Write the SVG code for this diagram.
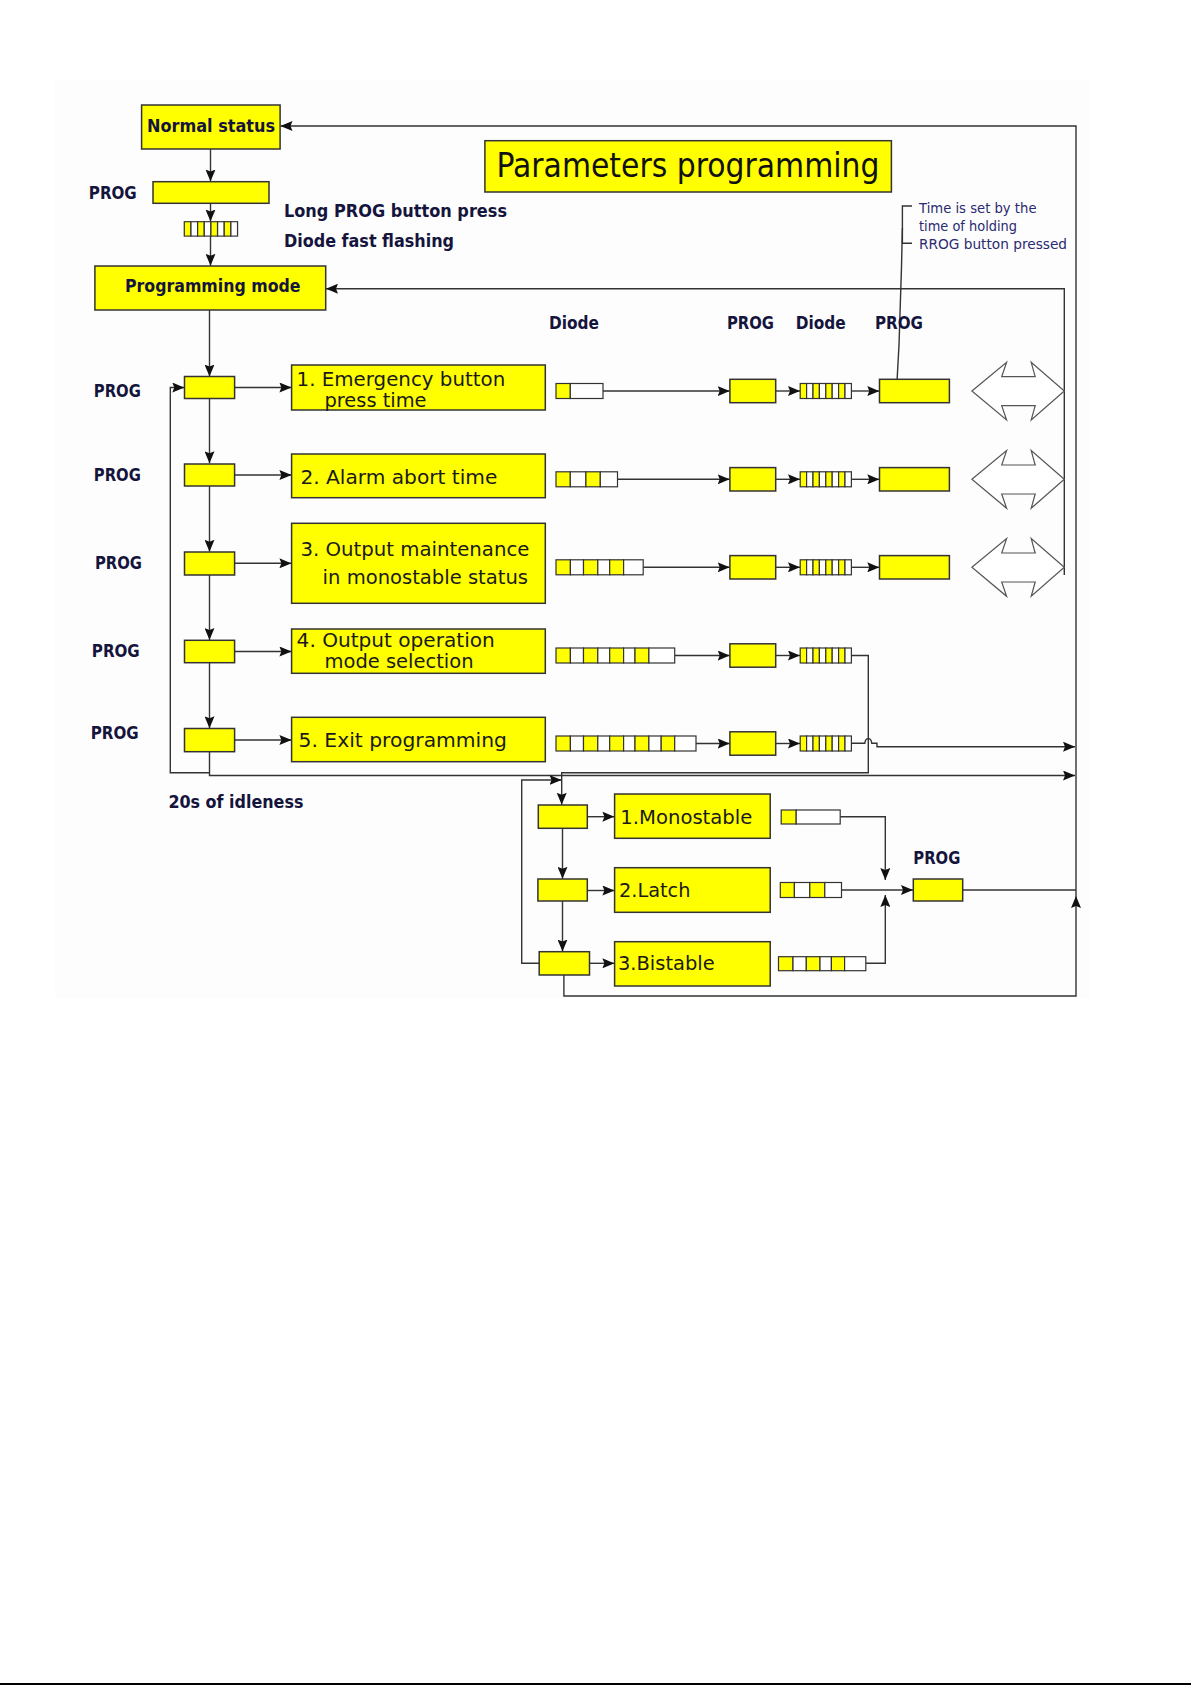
<svg xmlns="http://www.w3.org/2000/svg" xmlns:xlink="http://www.w3.org/1999/xlink" width="1191" height="1685" viewBox="0 0 1191 1685">
<style>
.box{fill:#ffff00;stroke:#333;stroke-width:1.5}
.ln{fill:none;stroke:#333;stroke-width:1.4}
.a{marker-end:url(#arr)}
.lb{font-family:"DejaVu Sans",sans-serif;font-weight:bold;font-size:17px;fill:#14143c}
.bt{font-family:"DejaVu Sans",sans-serif;font-size:20px;fill:#1a1a1a}
.an{font-family:"DejaVu Sans",sans-serif;font-size:14px;fill:#2a2a70}
.dy{fill:#ffff00;stroke:#333;stroke-width:1.2}
.dw{fill:#fff;stroke:#333;stroke-width:1.2}
.dbl{fill:#fff;stroke:#555;stroke-width:1.2}
</style>
<defs>
<marker id="arr" viewBox="0 0 12 10" refX="12" refY="5" markerWidth="12" markerHeight="10" markerUnits="userSpaceOnUse" orient="auto">
<path d="M0,0 L12,5 L0,10 L2,5 z" fill="#111"/>
</marker>
<g id="fast">
<rect class="dy" x="0" y="0" width="6.4" height="15"/>
<rect class="dw" x="6.4" y="0" width="6.4" height="15"/>
<rect class="dy" x="12.8" y="0" width="6.4" height="15"/>
<rect class="dw" x="19.2" y="0" width="6.4" height="15"/>
<rect class="dy" x="25.6" y="0" width="6.4" height="15"/>
<rect class="dw" x="32" y="0" width="6.4" height="15"/>
<rect class="dy" x="38.4" y="0" width="6.4" height="15"/>
<rect class="dw" x="44.8" y="0" width="6.4" height="15"/>
</g>
<path id="dbl" class="dbl" d="M971.9,0 L1006.6,-28.7 L1001.7,-14.3 L1035.2,-14.3 L1031.2,-28.7 L1064.3,0 L1031.2,29 L1035.2,14.7 L1001.7,14.7 L1006.6,29 Z"/>
</defs>
<rect x="0" y="0" width="1191" height="1685" fill="#ffffff"/>
<rect x="55" y="80" width="1035" height="918" fill="#fdfdfd"/>
<line x1="0" y1="1684" x2="1191" y2="1684" stroke="#000" stroke-width="2"/>

<g id="connectors">
<path class="ln a" d="M210.5,149 V181.5"/>
<path class="ln a" d="M210.5,203.3 V221.5"/>
<path class="ln a" d="M210.5,236 V265.8"/>
<path class="ln a" d="M209.5,310 V376.5"/>
<path class="ln a" d="M209.5,398.5 V463.3"/>
<path class="ln a" d="M209.5,486 V551.7"/>
<path class="ln a" d="M209.5,575 V640"/>
<path class="ln a" d="M209.5,662.7 V728.3"/>
<path class="ln a" d="M209.5,751.7 V775.5 H1075"/>
<path class="ln a" d="M209.5,772.7 H170.3 V387.5 H184.3"/>
<path class="ln a" d="M234.6,387.5 H291.4"/>
<path class="ln a" d="M234.6,475 H291.4"/>
<path class="ln a" d="M234.6,563.3 H291.4"/>
<path class="ln a" d="M234.6,651.5 H291.4"/>
<path class="ln a" d="M234.6,740 H291.4"/>
<path class="ln a" d="M603,391 H729.7"/>
<path class="ln a" d="M617.5,479.3 H729.7"/>
<path class="ln a" d="M643.2,567.3 H729.7"/>
<path class="ln a" d="M674.7,655.5 H729.7"/>
<path class="ln a" d="M696,743.5 H729.7"/>
<path class="ln a" d="M775.7,391 H800"/>
<path class="ln a" d="M775.7,479.3 H800"/>
<path class="ln a" d="M775.7,567.3 H800"/>
<path class="ln a" d="M775.7,655.5 H800"/>
<path class="ln a" d="M775.7,743.5 H800"/>
<path class="ln a" d="M851.3,391 H879.3"/>
<path class="ln a" d="M851.3,479.3 H879.3"/>
<path class="ln a" d="M851.3,567.3 H879.3"/>
<path class="ln a" d="M851.3,655.5 H868.3 V772.7 H561.7 V804.8"/>
<path class="ln a" d="M851.3,743.3 H864.8 C865.5,737 871,737 871.8,743.3 H877 V746.7 H1075"/>
<path class="ln" d="M912,206 H902.4 V243.3 H912"/>
<path class="ln" d="M902.4,228 L901.5,267 L899,345 L896.7,387"/>
<path class="ln a" d="M1076,896 V126 H280.5"/>
<path class="ln a" d="M1064.3,575 V288.7 H326"/>
<path class="ln a" d="M563.9,975 V996 H1076 V896"/>
<path class="ln a" d="M562.5,828.3 V878.8"/>
<path class="ln a" d="M562.5,901 V951.5"/>
<path class="ln a" d="M539.2,963.3 H521.7 V780 H561.5"/>
<path class="ln a" d="M587.3,816.7 H614.4"/>
<path class="ln a" d="M587.3,890.5 H614.4"/>
<path class="ln a" d="M589.5,963.3 H614.4"/>
<path class="ln a" d="M840.2,816.7 H885.3 V880"/>
<path class="ln a" d="M841.5,890 H913"/>
<path class="ln a" d="M865.8,963.3 H885.3 V895"/>
<path class="ln" d="M962.7,890 H1076"/>
</g>

<g id="normal-status">
<rect class="box" x="141.6" y="105" width="138.5" height="44"/>
<text class="lb" x="147" y="132" textLength="128" lengthAdjust="spacingAndGlyphs">Normal status</text>
</g>
<g id="prog-long">
<text class="lb" x="88.8" y="199" textLength="48" lengthAdjust="spacingAndGlyphs">PROG</text>
<rect class="box" x="153" y="181.7" width="116" height="21.6"/>
</g>
<g id="diode-fast">
<use xlink:href="#fast" transform="translate(184.3,221.7) scale(1.04,0.96)"/>
<text class="lb" x="284" y="217" textLength="223" lengthAdjust="spacingAndGlyphs">Long PROG button press</text>
<text class="lb" x="284" y="246.5" textLength="170" lengthAdjust="spacingAndGlyphs">Diode fast flashing</text>
</g>
<g id="programming-mode">
<rect class="box" x="94.9" y="266" width="230.8" height="44"/>
<text class="lb" x="125" y="292.3" textLength="175.5" lengthAdjust="spacingAndGlyphs">Programming mode</text>
</g>
<g id="title">
<rect class="box" x="484.9" y="140.7" width="406.5" height="51.3"/>
<text x="496.4" y="176.7" font-family="DejaVu Sans, sans-serif" font-size="34" fill="#111" textLength="383" lengthAdjust="spacingAndGlyphs">Parameters programming</text>
</g>
<g id="note">
<text class="an" x="919" y="212.7" textLength="117.5" lengthAdjust="spacingAndGlyphs">Time is set by the</text>
<text class="an" x="919" y="231" textLength="98" lengthAdjust="spacingAndGlyphs">time of holding</text>
<text class="an" x="919" y="249.3" textLength="148" lengthAdjust="spacingAndGlyphs">RROG button pressed</text>
</g>
<g id="column-labels">
<text class="lb" x="549" y="328.5" textLength="50" lengthAdjust="spacingAndGlyphs">Diode</text>
<text class="lb" x="727" y="329" textLength="47" lengthAdjust="spacingAndGlyphs">PROG</text>
<text class="lb" x="795.7" y="329" textLength="50" lengthAdjust="spacingAndGlyphs">Diode</text>
<text class="lb" x="875" y="329" textLength="48" lengthAdjust="spacingAndGlyphs">PROG</text>
</g>

<g id="row1">
<text class="lb" x="93.8" y="397" textLength="47" lengthAdjust="spacingAndGlyphs">PROG</text>
<rect class="box" x="184.5" y="376.5" width="50.1" height="22"/>
<rect class="box" x="291.6" y="365" width="253.7" height="45"/>
<text class="bt" x="296.6" y="385.5" textLength="208.6" lengthAdjust="spacingAndGlyphs">1. Emergency button</text>
<text class="bt" x="324.5" y="406.5" textLength="102" lengthAdjust="spacingAndGlyphs">press time</text>
<rect class="dy" x="556" y="383.5" width="14.3" height="15"/>
<rect class="dw" x="570.3" y="383.5" width="32.7" height="15"/>
<rect class="box" x="729.9" y="379.3" width="45.8" height="23.4"/>
<use xlink:href="#fast" x="800.2" y="383.5"/>
<rect class="box" x="879.5" y="379.3" width="69.9" height="23.4"/>
<use xlink:href="#dbl" y="391"/>
</g>
<g id="row2">
<text class="lb" x="93.8" y="480.7" textLength="47" lengthAdjust="spacingAndGlyphs">PROG</text>
<rect class="box" x="184.5" y="464" width="50.1" height="22"/>
<rect class="box" x="291.6" y="454" width="253.7" height="43.7"/>
<text class="bt" x="300.4" y="484" textLength="197" lengthAdjust="spacingAndGlyphs">2. Alarm abort time</text>
<rect class="dy" x="556" y="471.8" width="14.3" height="15"/>
<rect class="dw" x="570.3" y="471.8" width="15.6" height="15"/>
<rect class="dy" x="585.9" y="471.8" width="14.4" height="15"/>
<rect class="dw" x="600.3" y="471.8" width="17.2" height="15"/>
<rect class="box" x="729.9" y="467.6" width="45.8" height="23.4"/>
<use xlink:href="#fast" x="800.2" y="471.8"/>
<rect class="box" x="879.5" y="467.6" width="69.9" height="23.4"/>
<use xlink:href="#dbl" y="479.3"/>
</g>
<g id="row3">
<text class="lb" x="95" y="569" textLength="47" lengthAdjust="spacingAndGlyphs">PROG</text>
<rect class="box" x="184.5" y="552" width="50.1" height="23"/>
<rect class="box" x="291.6" y="523.3" width="253.7" height="80"/>
<text class="bt" x="300.4" y="556" textLength="229" lengthAdjust="spacingAndGlyphs">3. Output maintenance</text>
<text class="bt" x="322.6" y="584" textLength="205.4" lengthAdjust="spacingAndGlyphs">in monostable status</text>
<rect class="dy" x="556" y="559.8" width="14.4" height="15"/>
<rect class="dw" x="570.4" y="559.8" width="13.1" height="15"/>
<rect class="dy" x="583.5" y="559.8" width="14.3" height="15"/>
<rect class="dw" x="597.8" y="559.8" width="11.9" height="15"/>
<rect class="dy" x="609.7" y="559.8" width="13.9" height="15"/>
<rect class="dw" x="623.6" y="559.8" width="19.6" height="15"/>
<rect class="box" x="729.9" y="555.6" width="45.8" height="23.4"/>
<use xlink:href="#fast" x="800.2" y="559.8"/>
<rect class="box" x="879.5" y="555.6" width="69.9" height="23.4"/>
<use xlink:href="#dbl" y="567.3"/>
</g>
<g id="row4">
<text class="lb" x="91.8" y="657" textLength="48" lengthAdjust="spacingAndGlyphs">PROG</text>
<rect class="box" x="184.5" y="640.3" width="50.1" height="22.4"/>
<rect class="box" x="291.6" y="629" width="253.7" height="44.3"/>
<text class="bt" x="296.6" y="647" textLength="198.2" lengthAdjust="spacingAndGlyphs">4. Output operation</text>
<text class="bt" x="324.5" y="668" textLength="149" lengthAdjust="spacingAndGlyphs">mode selection</text>
<rect class="dy" x="556" y="648" width="14.4" height="15"/>
<rect class="dw" x="570.4" y="648" width="13.1" height="15"/>
<rect class="dy" x="583.5" y="648" width="14.3" height="15"/>
<rect class="dw" x="597.8" y="648" width="11.9" height="15"/>
<rect class="dy" x="609.7" y="648" width="13.9" height="15"/>
<rect class="dw" x="623.6" y="648" width="11.4" height="15"/>
<rect class="dy" x="635" y="648" width="13.9" height="15"/>
<rect class="dw" x="648.9" y="648" width="25.8" height="15"/>
<rect class="box" x="729.9" y="643.8" width="45.8" height="23.4"/>
<use xlink:href="#fast" x="800.2" y="648"/>
</g>
<g id="row5">
<text class="lb" x="90.7" y="739.3" textLength="48" lengthAdjust="spacingAndGlyphs">PROG</text>
<rect class="box" x="184.5" y="728.5" width="50.1" height="23.2"/>
<rect class="box" x="291.6" y="717.3" width="253.7" height="44.4"/>
<text class="bt" x="298.5" y="746.7" textLength="208.5" lengthAdjust="spacingAndGlyphs">5. Exit programming</text>
<rect class="dy" x="556" y="736" width="14.4" height="15"/>
<rect class="dw" x="570.4" y="736" width="13.1" height="15"/>
<rect class="dy" x="583.5" y="736" width="14.3" height="15"/>
<rect class="dw" x="597.8" y="736" width="11.9" height="15"/>
<rect class="dy" x="609.7" y="736" width="13.9" height="15"/>
<rect class="dw" x="623.6" y="736" width="11.4" height="15"/>
<rect class="dy" x="635" y="736" width="13.9" height="15"/>
<rect class="dw" x="648.9" y="736" width="12.3" height="15"/>
<rect class="dy" x="661.2" y="736" width="13.5" height="15"/>
<rect class="dw" x="674.7" y="736" width="21.3" height="15"/>
<rect class="box" x="729.9" y="731.8" width="45.8" height="23.4"/>
<use xlink:href="#fast" x="800.2" y="736"/>
</g>
<g id="idle-label">
<text class="lb" x="168.4" y="808.3" textLength="135" lengthAdjust="spacingAndGlyphs">20s of idleness</text>
</g>

<g id="sub1">
<rect class="box" x="538.3" y="805" width="49" height="23.3"/>
<rect class="box" x="614.6" y="794" width="155.6" height="44.3"/>
<text class="bt" x="620.3" y="824" textLength="132" lengthAdjust="spacingAndGlyphs">1.Monostable</text>
<rect class="dy" x="781.2" y="810" width="15" height="14"/>
<rect class="dw" x="796.2" y="810" width="44" height="14"/>
</g>
<g id="sub2">
<rect class="box" x="537.9" y="879" width="49.4" height="22"/>
<rect class="box" x="614.6" y="867.7" width="155.6" height="44.6"/>
<text class="bt" x="619" y="896.7" textLength="71.4" lengthAdjust="spacingAndGlyphs">2.Latch</text>
<rect class="dy" x="780.3" y="882.5" width="14.1" height="15"/>
<rect class="dw" x="794.4" y="882.5" width="15.4" height="15"/>
<rect class="dy" x="809.8" y="882.5" width="15" height="15"/>
<rect class="dw" x="824.8" y="882.5" width="16.7" height="15"/>
</g>
<g id="sub3">
<rect class="box" x="539.2" y="951.7" width="50.3" height="23.3"/>
<rect class="box" x="614.6" y="941.7" width="155.6" height="44.3"/>
<text class="bt" x="618" y="970" textLength="96.6" lengthAdjust="spacingAndGlyphs">3.Bistable</text>
<rect class="dy" x="778.5" y="956.7" width="14.5" height="14"/>
<rect class="dw" x="793" y="956.7" width="13.3" height="14"/>
<rect class="dy" x="806.3" y="956.7" width="13.7" height="14"/>
<rect class="dw" x="820" y="956.7" width="11.4" height="14"/>
<rect class="dy" x="831.4" y="956.7" width="13.2" height="14"/>
<rect class="dw" x="844.6" y="956.7" width="21.2" height="14"/>
</g>
<g id="sub-prog">
<text class="lb" x="913.3" y="864" textLength="47" lengthAdjust="spacingAndGlyphs">PROG</text>
<rect class="box" x="913.3" y="879" width="49.4" height="22"/>
</g>
</svg>
